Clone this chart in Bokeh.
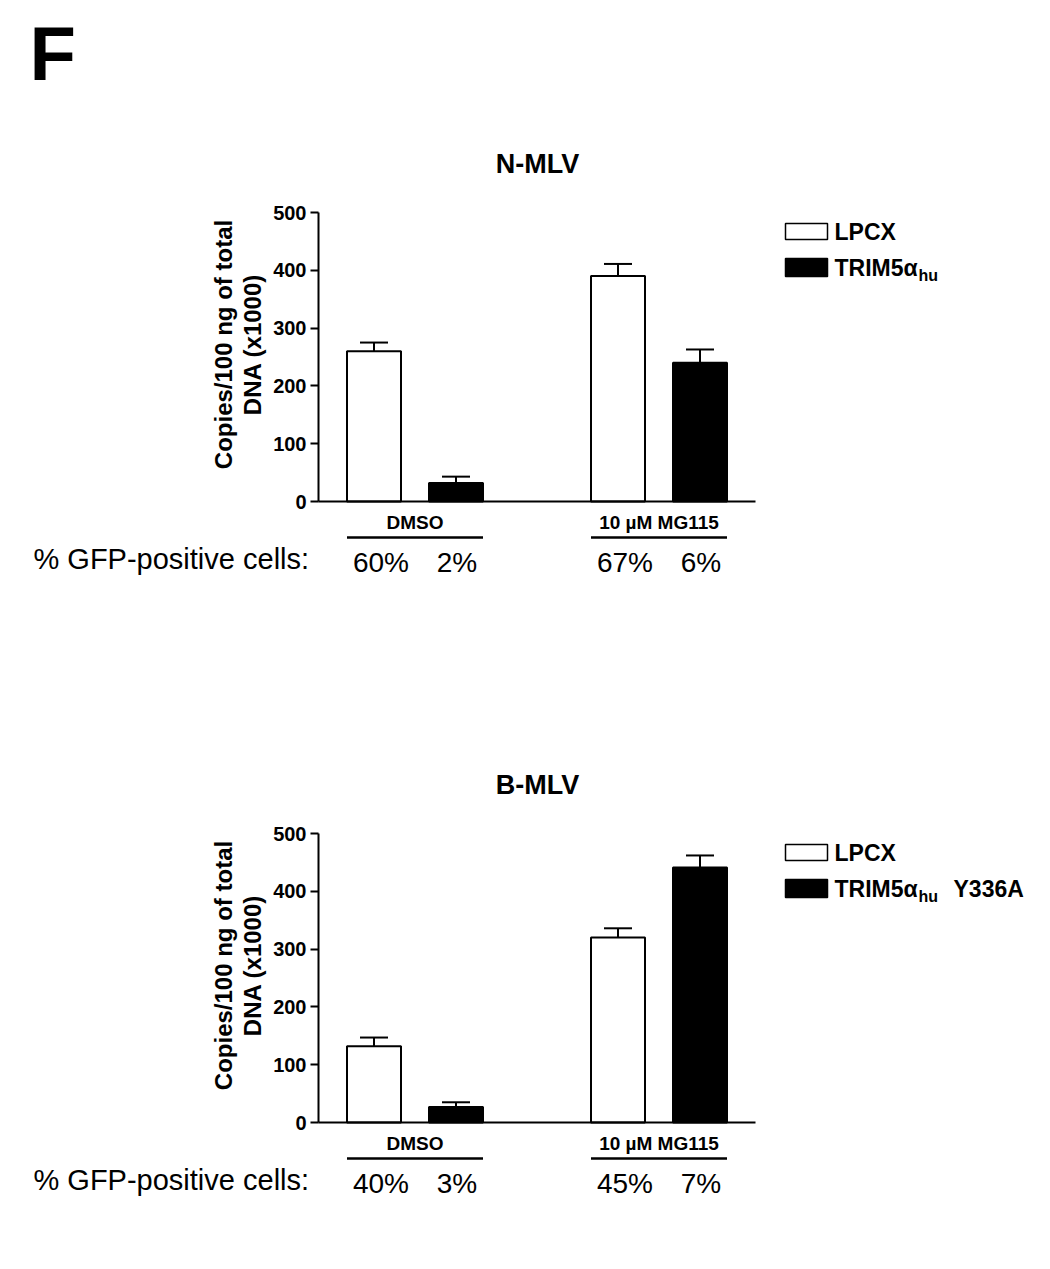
import numpy as np
from bokeh.plotting import figure
from bokeh.models import Range1d, LinearAxis, FixedTicker, ColumnDataSource
from bokeh.core.properties import value
from bokeh.embed import file_html
from bokeh.resources import INLINE

# ---------------- data ----------------
panel_titles = ["N-MLV", "B-MLV"]
groups = ["DMSO", "10 µM MG115"]
series_main = ["LPCX", "TRIM5α"]
series_suffix = ["", "Y336A"]          # suffix of 2nd legend entry per panel
# values per group: [LPCX, TRIM5a]
nmlv_values = [[260, 32], [390, 240]]
nmlv_errors = [[15, 11], [21, 23]]
nmlv_gfp = [["60%", "2%"], ["67%", "6%"]]
bmlv_values = [[132, 27], [320, 441]]
bmlv_errors = [[15, 8], [16, 21]]
bmlv_gfp = [["40%", "3%"], ["45%", "7%"]]
y_ticks = [0, 100, 200, 300, 400, 500]
y_label = ["Copies/100 ng of total", "DNA (x1000)"]
gfp_label = "% GFP-positive cells:"
panel_letter = "F"

# ---------------- layout ----------------
W, H = 1034, 1253
FONT = value("Liberation Sans")
AX_X0, AX_X1 = 318, 755
Y0_TOP, Y500_TOP = 501, 212
PANEL_DY = 621
BAR_W = 54
GROUP_CX = [414.5, 658.5]
BAR_DX = [-41, 41]
FILLS = ["white", "black"]
GFP_DX = [7, 1]

# data coordinates of the default ranges are picture pixels (y downwards)
p = figure(width=W, height=H, x_range=Range1d(0, W), y_range=Range1d(H, 0),
           x_axis_type=None, y_axis_type=None, output_backend="svg",
           toolbar_location=None, title=None, min_border=0,
           outline_line_color=None, background_fill_color="white",
           border_fill_color="white")

def txt(x, y, t, size, bold=False, align="center", angle=0.0):
    p.text(x=[x], y=[y], text=[t], text_font=FONT, text_font_size=f"{size}px",
           text_font_style="bold" if bold else "normal", text_align=align,
           text_baseline="middle", angle=angle, text_color="black")

# panel letter
txt(29, 53, panel_letter, 76, bold=True, align="left")

panels = [
    dict(values=nmlv_values, errors=nmlv_errors, gfp=nmlv_gfp),
    dict(values=bmlv_values, errors=bmlv_errors, gfp=bmlv_gfp),
]

for i, pan in enumerate(panels):
    dy = i * PANEL_DY
    y0 = Y0_TOP + dy
    y500 = Y500_TOP + dy
    k = (y0 - y500) / 500.0
    rname = f"panel{i}"
    p.extra_y_ranges[rname] = Range1d((y0 - H) / k, y0 / k)

    xs, tops, etops, fills, capl, capr = [], [], [], [], [], []
    for g in range(len(groups)):
        for s in range(2):
            cx = GROUP_CX[g] + BAR_DX[s]
            xs.append(cx)
            tops.append(pan["values"][g][s])
            etops.append(pan["values"][g][s] + pan["errors"][g][s])
            fills.append(FILLS[s])
            capl.append(cx - 14)
            capr.append(cx + 14)
    src = ColumnDataSource(dict(x=xs, top=tops, etop=etops, fill=fills, capl=capl, capr=capr))
    p.vbar(x="x", top="top", bottom=0, width=BAR_W, fill_color="fill",
           line_color="black", line_width=2, source=src, y_range_name=rname)
    p.segment(x0="x", y0="top", x1="x", y1="etop", line_color="black",
              line_width=2, source=src, y_range_name=rname)
    p.segment(x0="capl", y0="etop", x1="capr", y1="etop", line_color="black",
              line_width=2, source=src, y_range_name=rname)

    yax = LinearAxis(y_range_name=rname, fixed_location=AX_X0, bounds=(0, 500),
                     ticker=FixedTicker(ticks=y_ticks), axis_line_width=2,
                     axis_line_color="black", major_tick_line_width=2,
                     major_tick_out=8, major_tick_in=0, minor_tick_line_color=None,
                     major_label_text_font="Liberation Sans",
                     major_label_text_font_style="bold",
                     major_label_text_font_size="20px", major_label_standoff=4,
                     major_label_text_color="black")
    p.add_layout(yax, "left")
    xax = LinearAxis(y_range_name=rname, fixed_location=0, bounds=(AX_X0, AX_X1),
                     ticker=FixedTicker(ticks=[]), axis_line_width=2,
                     axis_line_color="black", major_tick_line_color=None,
                     minor_tick_line_color=None, major_label_text_font_size="0px")
    p.add_layout(xax, "below")

    # title
    txt(537, 163 + dy, panel_titles[i], 27, bold=True)
    # y label (two lines, rotated)
    txt(223, 344 + dy, y_label[0], 24, bold=True, angle=np.pi / 2)
    txt(252, 344 + dy, y_label[1], 24, bold=True, angle=np.pi / 2)

    # group labels + underline + GFP percentages
    for g, gname in enumerate(groups):
        left = GROUP_CX[g] + BAR_DX[0] - BAR_W / 2
        right = GROUP_CX[g] + BAR_DX[1] + BAR_W / 2
        txt(GROUP_CX[g], 522 + dy, gname, 19, bold=True)
        p.segment(x0=[left], y0=[537 + dy], x1=[right], y1=[537 + dy],
                  line_color="black", line_width=2.5)
        for s in range(2):
            txt(GROUP_CX[g] + BAR_DX[s] + GFP_DX[s], 562 + dy, pan["gfp"][g][s], 28)
    txt(33, 558 + dy, gfp_label, 29, align="left")

    # legend
    p.quad(left=[785], right=[827], top=[223 + dy], bottom=[239 + dy],
           fill_color="white", line_color="black", line_width=1.5)
    p.quad(left=[785], right=[827], top=[258 + dy], bottom=[276 + dy],
           fill_color="black", line_color="black", line_width=1.5)
    txt(834, 231 + dy, series_main[0], 23, bold=True, align="left")
    txt(834, 267 + dy, series_main[1], 23, bold=True, align="left")
    txt(918, 275 + dy, "hu", 16, bold=True, align="left")
    if series_suffix[i]:
        txt(953, 267 + dy, series_suffix[i], 23, bold=True, align="left")

open("out.html", "w").write(file_html(p, INLINE))
